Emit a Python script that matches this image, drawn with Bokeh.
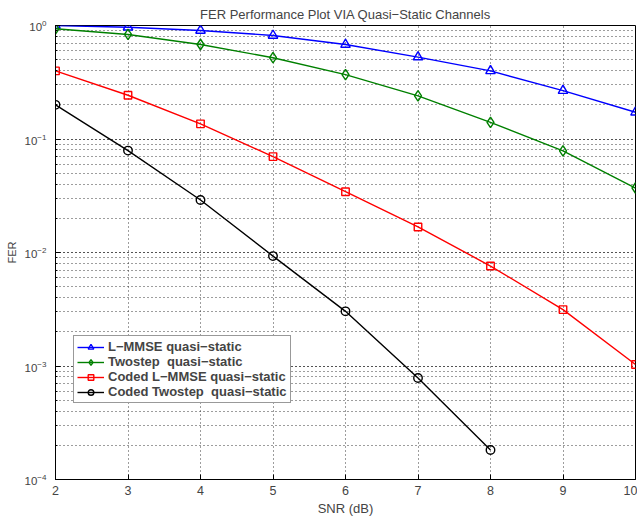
from bokeh.plotting import figure
from bokeh.models import Range1d, FixedTicker, Legend
from bokeh.embed import file_html
from bokeh.resources import INLINE

snr = [2, 3, 4, 5, 6, 7, 8, 9, 10]
fer_lmmse = [1.0, 0.966, 0.904, 0.817, 0.68, 0.527, 0.398, 0.267, 0.172]
fer_twostep = [0.935, 0.834, 0.68, 0.52, 0.369, 0.24, 0.14, 0.0785, 0.037]
fer_coded_lmmse = [0.398, 0.243, 0.136, 0.070, 0.0343, 0.0168, 0.0076, 0.00314, 0.00103]
snr_coded_twostep = [2, 3, 4, 5, 6, 7, 8]
fer_coded_twostep = [0.2, 0.079, 0.029, 0.0093, 0.00303, 0.000785, 0.000182]

title = "FER Performance Plot VIA Quasi\u2212Static Channels"
labels = ["L\u2212MMSE quasi\u2212static", "Twostep  quasi\u2212static",
          "Coded L\u2212MMSE quasi\u2212static", "Coded Twostep  quasi\u2212static"]

FONT = "Liberation Sans"

p = figure(width=637, height=518, y_axis_type="log",
           x_range=Range1d(2, 10), y_range=Range1d(1e-4, 1),
           output_backend="svg", toolbar_location=None,
           min_border_left=55, min_border_right=2, min_border_top=25,
           min_border_bottom=37)

p.title.text = title
p.title.align = "center"
p.title.text_font = FONT
p.title.text_font_size = "13px"
p.title.text_font_style = "normal"
p.title.standoff = 8

p.outline_line_color = "black"
p.outline_line_width = 1
p.background_fill_color = "white"

p.xaxis.ticker = FixedTicker(ticks=snr)
p.xaxis.axis_label = "SNR (dB)"
p.yaxis.axis_label = "FER"
for ax in (p.xaxis, p.yaxis):
    ax.axis_label_text_font = FONT
    ax.axis_label_text_font_style = "normal"
    ax.major_label_text_font = FONT
    ax.major_tick_in = 5
    ax.major_tick_out = 0
    ax.minor_tick_in = 2
    ax.minor_tick_out = 0
    ax.axis_line_color = "black"
    ax.major_tick_line_color = "black"
    ax.minor_tick_line_color = "black"
p.xaxis.axis_label_text_font_size = "13px"
p.xaxis.major_label_text_font_size = "12.5px"
p.yaxis.axis_label_text_font_size = "11px"
p.yaxis.major_label_text_font_size = "11.5px"
p.xaxis.major_label_standoff = 6
p.xaxis.axis_label_standoff = 3
p.yaxis.major_label_standoff = 9
p.yaxis.axis_label_standoff = 4

for g in (p.xgrid, p.ygrid):
    g.grid_line_color = "#3a3a3a"
    g.grid_line_dash = "1 3"
    g.grid_line_width = 1
p.ygrid.minor_grid_line_color = "#3a3a3a"
p.ygrid.minor_grid_line_dash = "1 3"

series = [
    (snr, fer_lmmse, "#0000ff", "triangle", 9.5, labels[0]),
    (snr, fer_twostep, "#008000", "diamond", 10.5, labels[1]),
    (snr, fer_coded_lmmse, "#ff0000", "square", 7.5, labels[2]),
    (snr_coded_twostep, fer_coded_twostep, "#000000", "circle", 8.5, labels[3]),
]
items = []
for xs, ys, col, mk, sz, lab in series:
    r1 = p.line(xs, ys, line_color=col, line_width=1.4)
    r2 = p.scatter(xs, ys, marker=mk, size=sz, line_color=col,
                   line_width=1.4, fill_color=None)
    items.append((lab, [r1, r2]))

legend = Legend(items=items, location=(18, 76))
legend.label_text_font = FONT
legend.label_text_font_size = "13px"
legend.label_text_font_style = "bold"
legend.border_line_color = "#333333"
legend.border_line_width = 1
legend.background_fill_color = "white"
legend.background_fill_alpha = 1
legend.padding = 3
legend.spacing = 0
legend.margin = 0
legend.label_height = 14
legend.glyph_height = 14
legend.glyph_width = 27
legend.label_standoff = 4
p.add_layout(legend, "center")

open("out.html", "w").write(file_html(p, INLINE))
